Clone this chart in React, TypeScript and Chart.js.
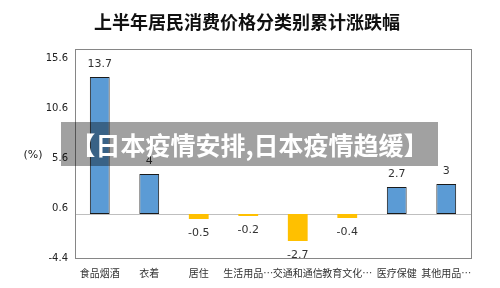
import React, { useEffect, useRef } from "react";
import { Chart, registerables } from "chart.js";

Chart.register(...registerables);

const TITLE = "上半年居民消费价格分类别累计涨跌幅";
const BANNER = "【日本疫情安排,日本疫情趋缓】";
const UNIT = "(%)";

const categories = [
  "食品烟酒",
  "衣着",
  "居住",
  "生活用品…",
  "交通和通信",
  "教育文化…",
  "医疗保健",
  "其他用品…",
];
const values = [13.7, 4, -0.5, -0.2, -2.7, -0.4, 2.7, 3];
const yTicks = [-4.4, 0.6, 5.6, 10.6, 15.6];

const POS_COLOR = "#5B9BD5";
const NEG_COLOR = "#FFC000";

const decorPlugin = {
  id: "decor",
  beforeDatasetsDraw(chart: any) {
    const { ctx, chartArea, scales } = chart;
    const y0 = scales.y.getPixelForValue(0);
    ctx.save();
    ctx.strokeStyle = "#BFBFBF";
    ctx.lineWidth = 1;
    ctx.beginPath();
    ctx.moveTo(chartArea.left, Math.round(y0) + 0.5);
    ctx.lineTo(chartArea.right, Math.round(y0) + 0.5);
    ctx.stroke();
    ctx.restore();
  },
  afterDatasetsDraw(chart: any) {
    const { ctx, chartArea, scales } = chart;
    ctx.save();
    // plot frame
    ctx.strokeStyle = "#868686";
    ctx.lineWidth = 1;
    ctx.strokeRect(
      Math.round(chartArea.left) + 0.5,
      Math.round(chartArea.top) + 0.5,
      Math.round(chartArea.right - chartArea.left),
      Math.round(chartArea.bottom - chartArea.top)
    );

    // title
    ctx.fillStyle = "#111";
    ctx.font = "bold 18px 'Noto Sans CJK SC', sans-serif";
    ctx.textAlign = "center";
    ctx.textBaseline = "middle";
    ctx.fillText(TITLE, 247, 22);

    // unit
    ctx.font = "11px 'DejaVu Sans', sans-serif";
    ctx.fillStyle = "#222";
    ctx.fillText(UNIT, 33, scales.y.getPixelForValue(5.9));

    // value labels
    const meta = chart.getDatasetMeta(0);
    ctx.font = "11px 'DejaVu Sans', sans-serif";
    ctx.fillStyle = "#333";
    meta.data.forEach((bar: any, i: number) => {
      const v = values[i];
      const y = v >= 0 ? bar.y - 13 : bar.y + 14;
      ctx.fillText(String(v), bar.x, y);
    });
    ctx.restore();
  },
};

export default function App() {
  const ref = useRef<HTMLCanvasElement>(null);

  useEffect(() => {
    document.body.style.margin = "0";
    const chart = new Chart(ref.current!, {
      type: "bar",
      data: {
        labels: categories,
        datasets: [
          {
            data: values,
            backgroundColor: values.map((v) => (v >= 0 ? POS_COLOR : NEG_COLOR)),
            borderColor: values.map((v) => (v >= 0 ? "#1a1a1a" : NEG_COLOR)),
            borderWidth: values.map((v) => (v >= 0 ? 1 : 0)),
            borderSkipped: false,
            categoryPercentage: 1,
            barPercentage: 0.4,
          },
        ],
      },
      options: {
        animation: false,
        responsive: false,
        maintainAspectRatio: false,
        layout: { padding: { left: 0, top: 49, right: 29, bottom: 0 } },
        plugins: {
          legend: { display: false },
          tooltip: { enabled: false },
          title: { display: false },
        },
        scales: {
          x: {
            grid: { display: false, drawTicks: false },
            border: { display: false },
            ticks: {
              color: "#333",
              padding: 9,
              maxRotation: 0,
              autoSkip: false,
              font: { family: "'Noto Sans CJK SC', sans-serif", size: 10 },
            },
            afterFit(scale: any) {
              scale.height = 30;
            },
          },
          y: {
            min: -4.4,
            max: 16.5,
            grid: { display: false, drawTicks: false },
            border: { display: false },
            afterBuildTicks(scale: any) {
              scale.ticks = yTicks.map((v) => ({ value: v }));
            },
            ticks: {
              color: "#222",
              padding: 7,
              font: { family: "'DejaVu Sans', sans-serif", size: 10 },
              callback: (v: any) => String(v),
            },
            afterFit(scale: any) {
              scale.width = 75;
            },
          },
        },
      },
      plugins: [decorPlugin],
    });
    return () => chart.destroy();
  }, []);

  return (
    <div style={{ position: "relative", width: 500, height: 288, background: "#fff" }}>
      <canvas ref={ref} width={500} height={288} style={{ display: "block" }} />
      <div
        style={{
          position: "absolute",
          left: 61,
          top: 122,
          width: 377,
          height: 44,
          background: "rgba(0,0,0,0.37)",
          color: "#fff",
          fontFamily: "'Noto Sans CJK SC', sans-serif",
          fontWeight: "bold",
          fontSize: 25,
          lineHeight: "44px",
          textAlign: "center",
          whiteSpace: "nowrap",
        }}
      >
        {BANNER}
      </div>
    </div>
  );
}
